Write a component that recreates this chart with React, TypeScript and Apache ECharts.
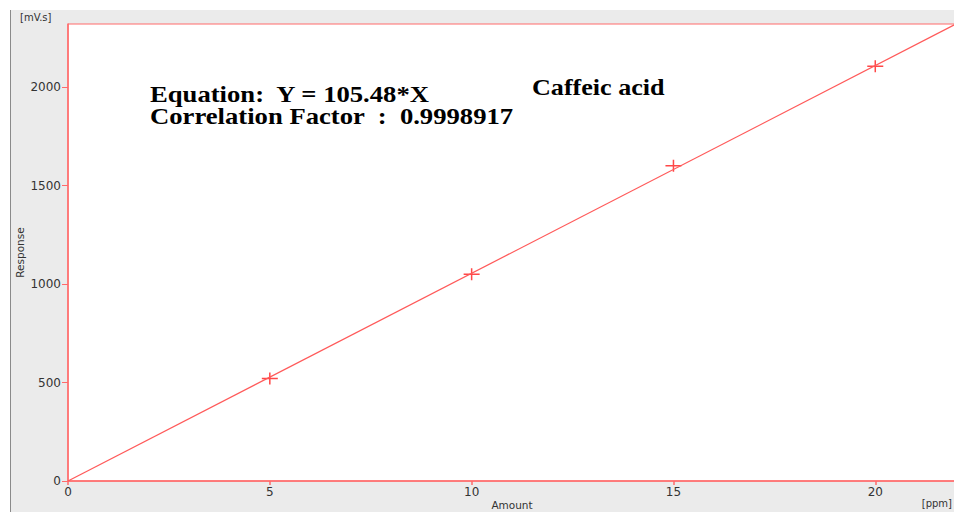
import React, { useEffect, useRef } from "react";
import * as echarts from "echarts";

// ---- data ----
const pointX = [5, 10, 15, 20];
const pointY = [520, 1050, 1600, 2105];
const fitX = [0, 22];
const fitY = [0, 2320];
const xTicks = [0, 5, 10, 15, 20];
const yTicks = [0, 500, 1000, 1500, 2000];
const xMax = 22;
const yMax = 2320;

const equationText = "Equation:  Y = 105.48*X";
const correlationText = "Correlation Factor  :  0.9998917";
const compoundText = "Caffeic acid";
const xName = "Amount";
const yName = "Response";
const xUnit = "[ppm]";
const yUnit = "[mV.s]";

const RED = "#ff6a6a";
const LABEL = "#333333";
const AXIS_FONT = "DejaVu Sans";

export default function App() {
  const ref = useRef<HTMLDivElement>(null);

  useEffect(() => {
    if (!ref.current) return;
    const chart = echarts.init(ref.current, undefined, { renderer: "svg" });
    const option: any = {
      animation: false,
      backgroundColor: "transparent",
      grid: {
        left: 68,
        top: 24,
        right: -2,
        bottom: 31,
        outerBoundsMode: "none",
        containLabel: false,
        show: true,
        backgroundColor: "#ffffff",
        borderColor: RED,
        borderWidth: 1,
      },
      xAxis: {
        type: "value",
        min: 0,
        max: xMax,
        name: xName,
        nameLocation: "middle",
        nameGap: 18,
        nameMoveOverlap: false,
        nameTextStyle: { color: LABEL, fontSize: 10.5, fontFamily: AXIS_FONT },
        axisLine: { show: true, onZero: false, lineStyle: { color: RED, width: 1.5 } },
        axisTick: { show: true, length: 4, customValues: xTicks, lineStyle: { color: RED, width: 1.5 } },
        axisLabel: {
          customValues: xTicks,
          formatter: (v: number) => String(v),
          color: LABEL,
          fontSize: 12,
          fontFamily: AXIS_FONT,
          margin: 5,
        },
        splitLine: { show: false },
      },
      yAxis: {
        type: "value",
        min: 0,
        max: yMax,
        name: yName,
        nameLocation: "middle",
        nameGap: 43,
        nameMoveOverlap: false,
        nameTextStyle: { color: LABEL, fontSize: 10.5, fontFamily: AXIS_FONT },
        axisLine: { show: true, onZero: false, lineStyle: { color: RED, width: 1.5 } },
        axisTick: { show: true, length: 6, customValues: yTicks, lineStyle: { color: RED, width: 1 } },
        axisLabel: {
          customValues: yTicks,
          formatter: (v: number) => String(v),
          color: LABEL,
          fontSize: 12,
          fontFamily: AXIS_FONT,
          margin: 7,
        },
        splitLine: { show: false },
      },
      graphic: [
        {
          type: "text",
          x: 150,
          y: 94,
          scaleX: 1.185,
          style: { text: equationText, font: 'bold 22.5px "Liberation Serif"', fill: "#000", verticalAlign: "middle" },
        },
        {
          type: "text",
          x: 150,
          y: 116,
          scaleX: 1.185,
          style: { text: correlationText, font: 'bold 22.5px "Liberation Serif"', fill: "#000", verticalAlign: "middle" },
        },
        {
          type: "text",
          x: 532,
          y: 87,
          scaleX: 1.16,
          style: { text: compoundText, font: 'bold 22.5px "Liberation Serif"', fill: "#000", verticalAlign: "middle" },
        },
        {
          type: "text",
          x: 20,
          y: 17,
          style: { text: yUnit, font: `10px "${AXIS_FONT}"`, fill: LABEL, verticalAlign: "middle" },
        },
        {
          type: "text",
          x: 952,
          y: 503,
          style: { text: xUnit, font: `10px "${AXIS_FONT}"`, fill: LABEL, align: "right", verticalAlign: "middle" },
        },
      ],
      series: [
        {
          type: "line",
          data: fitX.map((x, i) => [x, fitY[i]]),
          showSymbol: false,
          silent: true,
          lineStyle: { color: "#ff5a5a", width: 1.2 },
        },
        {
          type: "scatter",
          data: pointX.map((x, i) => [x, pointY[i]]),
          symbol: "path://M0,5.25H16V6.75H0Z M7.25,0H8.75V12H7.25Z",
          symbolSize: [16, 12],
          itemStyle: { color: "#ff1a1a" },
        },
      ],
    };
    chart.setOption(option);
    return () => chart.dispose();
  }, []);

  return (
    <div style={{ position: "fixed", left: 0, top: 0, width: 954, height: 512, background: "#ffffff", overflow: "hidden" }}>
      <div
        style={{
          position: "absolute",
          left: 10,
          top: 10,
          right: 0,
          bottom: 0,
          background: "#ebebeb",
          borderLeft: "1px solid #8a8a8a",
        }}
      />
      <div ref={ref} style={{ position: "absolute", left: 0, top: 0, width: 954, height: 512 }} />
    </div>
  );
}
